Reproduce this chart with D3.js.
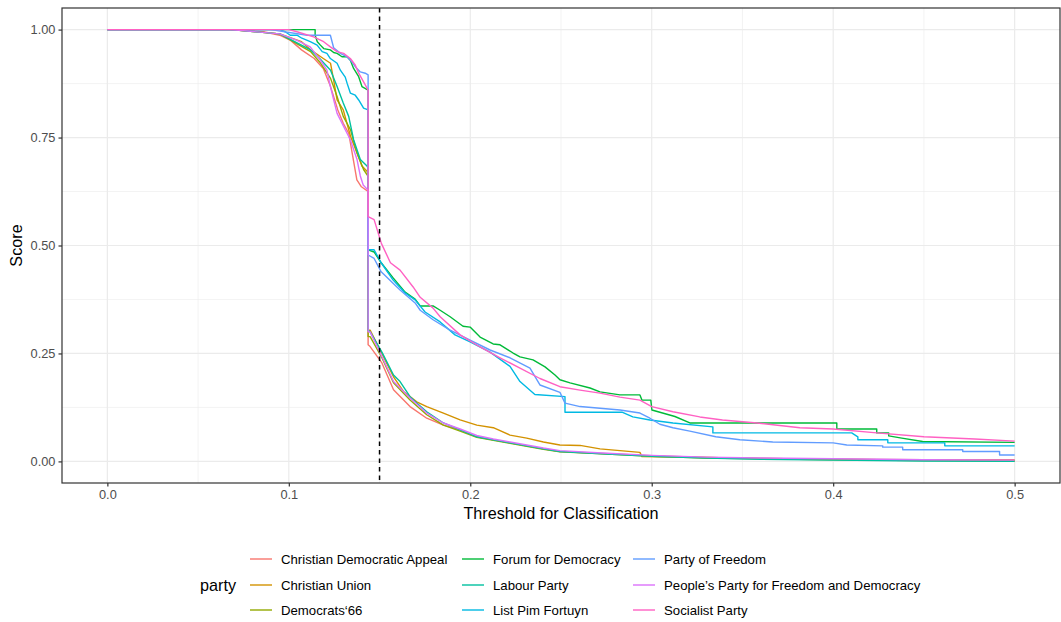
<!DOCTYPE html>
<html>
<head>
    <meta charset="utf-8">
    <title>Score by threshold</title>
    <style>
        body { margin: 0; background: #fff; }
        text { font-family: "Liberation Sans", Arial, sans-serif; }
        .tick-label { fill: #4d4d4d; font-size: 12.8px; }
        .axis-title { fill: #000; font-size: 16.2px; }
        .legend-label { fill: #000; font-size: 13.2px; }
    </style>
</head>
<body>
    <div id="chart"></div>
    <script src="https://d3js.org/d3.v7.min.js"></script>
    <script>
        // parties in legend order, with the default hue colours
        const parties = [
            "Christian Democratic Appeal", "Christian Union", "Democrats‘66",
            "Forum for Democracy", "Labour Party", "List Pim Fortuyn",
            "Party of Freedom", "People’s Party for Freedom and Democracy", "Socialist Party"
        ];
        const colors = ["#F8766D", "#D39200", "#93AA00", "#00BA38", "#00C19F",
                        "#00B9E3", "#619CFF", "#DB72FB", "#FF61C3"];

        const xTicks = [0, 0.1, 0.2, 0.3, 0.4, 0.5];
        const yTicks = [0, 0.25, 0.5, 0.75, 1];
        const cutoff = 0.15;

        // [threshold, score]
        const cda = [[0,1],[0.068,1],[0.086,0.995],[0.095,0.987],[0.101,0.975],[0.107,0.953],[0.114,0.933],[0.119,0.91],[0.123,0.868],[0.127,0.814],[0.130,0.783],[0.133,0.76],[0.1375,0.652],[0.140,0.636],[0.1437,0.625],
            [0.1437,0.27],[0.1448,0.266],[0.1513,0.228],[0.1577,0.166],[0.1668,0.127],[0.176,0.1],[0.1852,0.084],[0.1944,0.073],[0.2036,0.057],[0.2127,0.05],[0.2219,0.043],[0.2311,0.036],[0.2403,0.029],[0.2494,0.023],[0.27,0.019],[0.30,0.013],[0.33,0.009],[0.36,0.007],[0.40,0.005],[0.45,0.004],[0.5,0.004]];
        const cu = [[0,1],[0.068,1],[0.095,0.99],[0.107,0.972],[0.112,0.953],[0.119,0.933],[0.123,0.922],[0.1247,0.883],[0.1266,0.837],[0.130,0.814],[0.134,0.753],[0.1376,0.714],[0.1403,0.684],[0.1431,0.672],[0.1437,0.665],
            [0.1437,0.304],[0.1448,0.304],[0.1513,0.25],[0.1577,0.196],[0.1632,0.162],[0.1668,0.15],[0.1705,0.138],[0.176,0.127],[0.1852,0.112],[0.1944,0.096],[0.2036,0.084],[0.2127,0.078],[0.2219,0.061],[0.2311,0.054],[0.2403,0.045],[0.2494,0.038],[0.2605,0.037],[0.2715,0.029],[0.2935,0.021],[0.2946,0.011],[0.33,0.009],[0.36,0.007],[0.40,0.005],[0.45,0.003],[0.5,0.002]];
        const d66 = [[0,1],[0.068,1],[0.095,0.99],[0.112,0.949],[0.117,0.925],[0.123,0.887],[0.1266,0.845],[0.130,0.799],[0.134,0.768],[0.1376,0.714],[0.1412,0.676],[0.1437,0.66],
            [0.1437,0.289],[0.1448,0.289],[0.1513,0.24],[0.1577,0.182],[0.1668,0.142],[0.176,0.108],[0.1852,0.084],[0.1944,0.07],[0.2036,0.056],[0.2127,0.049],[0.2219,0.042],[0.2311,0.035],[0.2403,0.028],[0.2494,0.022],[0.27,0.018],[0.30,0.012],[0.33,0.008],[0.36,0.006],[0.40,0.004],[0.45,0.002],[0.5,0.001]];
        const fvd = [[0,1],[0.1145,1],[0.1145,0.987],[0.1157,0.972],[0.1174,0.964],[0.1192,0.956],[0.1229,0.953],[0.1247,0.947],[0.1266,0.945],[0.1293,0.937],[0.1321,0.937],[0.1339,0.929],[0.1357,0.91],[0.1385,0.891],[0.1403,0.868],[0.1437,0.86],
            [0.1437,0.49],[0.147,0.485],[0.1509,0.46],[0.1575,0.425],[0.1641,0.392],[0.1696,0.376],[0.1724,0.36],[0.1795,0.36],[0.1834,0.35],[0.1889,0.335],[0.196,0.313],[0.1999,0.311],[0.2054,0.288],[0.2126,0.272],[0.2164,0.27],[0.2236,0.251],[0.2274,0.242],[0.2346,0.235],[0.2412,0.219],[0.2467,0.2],[0.2494,0.189],[0.255,0.182],[0.266,0.17],[0.2715,0.161],[0.2825,0.154],[0.2935,0.154],[0.2946,0.142],[0.2995,0.142],[0.3001,0.119],[0.3128,0.104],[0.321,0.089],[0.402,0.089],[0.402,0.075],[0.424,0.075],[0.424,0.066],[0.4306,0.066],[0.4306,0.059],[0.4378,0.054],[0.4493,0.046],[0.5,0.044]];
        const labour = [[0,1],[0.068,1],[0.095,0.99],[0.112,0.953],[0.117,0.933],[0.123,0.906],[0.1266,0.868],[0.130,0.83],[0.133,0.799],[0.1357,0.745],[0.1394,0.699],[0.1431,0.684],[0.1437,0.68],
            [0.1437,0.304],[0.1448,0.3],[0.1513,0.253],[0.1577,0.2],[0.1613,0.185],[0.1668,0.15],[0.1705,0.135],[0.176,0.115],[0.1852,0.089],[0.1944,0.073],[0.2036,0.057],[0.2127,0.05],[0.2219,0.043],[0.2311,0.036],[0.2403,0.029],[0.2494,0.023],[0.27,0.018],[0.30,0.012],[0.33,0.008],[0.36,0.005],[0.40,0.003],[0.45,0.001],[0.5,0.0]];
        const lpf = [[0,1],[0.095,1],[0.098,0.995],[0.1008,0.987],[0.1045,0.987],[0.1072,0.98],[0.1118,0.972],[0.1156,0.964],[0.1184,0.949],[0.121,0.945],[0.1229,0.933],[0.1266,0.922],[0.1284,0.906],[0.1311,0.89],[0.1321,0.876],[0.1339,0.853],[0.1366,0.848],[0.1385,0.837],[0.1412,0.818],[0.1437,0.814],
            [0.1437,0.49],[0.147,0.49],[0.1509,0.46],[0.1575,0.42],[0.1641,0.39],[0.1696,0.374],[0.1751,0.346],[0.1834,0.323],[0.1916,0.293],[0.1999,0.277],[0.2109,0.253],[0.2219,0.22],[0.2274,0.185],[0.2356,0.155],[0.2522,0.15],[0.2522,0.114],[0.2836,0.114],[0.2896,0.103],[0.299,0.096],[0.3117,0.089],[0.3337,0.08],[0.3337,0.066],[0.4102,0.066],[0.4136,0.057],[0.4136,0.05],[0.4301,0.05],[0.4301,0.043],[0.4615,0.043],[0.4615,0.036],[0.5,0.036]];
        const pvv = [[0,1],[0.09,1],[0.1101,0.987],[0.1229,0.987],[0.1247,0.958],[0.1284,0.945],[0.1321,0.937],[0.1348,0.925],[0.1366,0.914],[0.1394,0.902],[0.1421,0.899],[0.1437,0.895],
            [0.1437,0.478],[0.147,0.47],[0.1509,0.439],[0.1613,0.397],[0.1696,0.367],[0.1724,0.35],[0.1795,0.328],[0.1889,0.304],[0.1999,0.281],[0.2109,0.258],[0.2219,0.24],[0.2329,0.216],[0.2384,0.177],[0.2494,0.16],[0.2522,0.135],[0.2605,0.127],[0.2825,0.119],[0.2935,0.112],[0.299,0.1],[0.3045,0.086],[0.3117,0.078],[0.321,0.07],[0.3353,0.057],[0.3486,0.05],[0.3667,0.045],[0.4,0.043],[0.4075,0.038],[0.4273,0.036],[0.4273,0.033],[0.4383,0.033],[0.4383,0.027],[0.4714,0.027],[0.4714,0.023],[0.4917,0.023],[0.4917,0.015],[0.5,0.015]];
        const vvd = [[0,1],[0.068,1],[0.095,0.99],[0.1045,0.975],[0.1118,0.96],[0.1174,0.929],[0.121,0.906],[0.1229,0.868],[0.1266,0.806],[0.1311,0.768],[0.1339,0.745],[0.1376,0.699],[0.1394,0.661],[0.141,0.64],[0.1437,0.628],
            [0.1437,0.30],[0.1448,0.3],[0.1513,0.243],[0.1577,0.185],[0.1668,0.147],[0.176,0.112],[0.1852,0.089],[0.1944,0.075],[0.2036,0.06],[0.2127,0.052],[0.2219,0.045],[0.2311,0.038],[0.2403,0.031],[0.2494,0.025],[0.27,0.02],[0.30,0.014],[0.33,0.01],[0.36,0.008],[0.40,0.006],[0.45,0.004],[0.5,0.003]];
        const sp = [[0,1],[0.1,1],[0.1045,0.995],[0.1137,0.983],[0.1192,0.972],[0.1229,0.96],[0.1266,0.949],[0.1302,0.945],[0.1339,0.933],[0.1366,0.918],[0.1385,0.899],[0.1412,0.879],[0.1437,0.86],
            [0.1437,0.567],[0.147,0.56],[0.151,0.505],[0.156,0.46],[0.1613,0.443],[0.1685,0.404],[0.1724,0.38],[0.1795,0.355],[0.1834,0.335],[0.1944,0.293],[0.2054,0.265],[0.2164,0.24],[0.2274,0.216],[0.2384,0.192],[0.2494,0.173],[0.2605,0.165],[0.2715,0.158],[0.2825,0.149],[0.2935,0.142],[0.3,0.127],[0.3117,0.115],[0.3265,0.103],[0.339,0.096],[0.358,0.089],[0.3816,0.078],[0.4,0.075],[0.424,0.066],[0.45,0.057],[0.478,0.052],[0.5,0.047]];

        const seriesValues = [cda, cu, d66, fvd, labour, lpf, pvv, vvd, sp];

        const W = 1061, H = 622;
        const panel = { left: 62, right: 1060, top: 8, bottom: 483 };

        const svg = d3.select("#chart").append("svg")
            .attr("width", W)
            .attr("height", H);

        const x = d3.scaleLinear().domain([-0.025, 0.525]).range([panel.left, panel.right]);
        const y = d3.scaleLinear().domain([-0.05, 1.05]).range([panel.bottom, panel.top]);

        // grid, minor first then major
        const grid = svg.append("g");
        const xMinor = d3.range(0, 5).map(i => 0.05 + i * 0.1);
        const yMinor = [0.125, 0.375, 0.625, 0.875];
        grid.selectAll(".xmin").data(xMinor).enter().append("line")
            .attr("x1", d => x(d)).attr("x2", d => x(d))
            .attr("y1", panel.top).attr("y2", panel.bottom)
            .attr("stroke", "#ebebeb").attr("stroke-width", 0.6);
        grid.selectAll(".ymin").data(yMinor).enter().append("line")
            .attr("x1", panel.left).attr("x2", panel.right)
            .attr("y1", d => y(d)).attr("y2", d => y(d))
            .attr("stroke", "#ebebeb").attr("stroke-width", 0.6);
        grid.selectAll(".xmaj").data(xTicks).enter().append("line")
            .attr("x1", d => x(d)).attr("x2", d => x(d))
            .attr("y1", panel.top).attr("y2", panel.bottom)
            .attr("stroke", "#ebebeb").attr("stroke-width", 1.2);
        grid.selectAll(".ymaj").data(yTicks).enter().append("line")
            .attr("x1", panel.left).attr("x2", panel.right)
            .attr("y1", d => y(d)).attr("y2", d => y(d))
            .attr("stroke", "#ebebeb").attr("stroke-width", 1.2);

        // lines
        const line = d3.line().x(d => x(d[0])).y(d => y(d[1]));
        svg.append("g").selectAll("path").data(seriesValues).enter().append("path")
            .attr("d", line)
            .attr("fill", "none")
            .attr("stroke", (d, i) => colors[i])
            .attr("stroke-width", 1.4)
            .attr("stroke-linejoin", "round");

        // cut-off line
        svg.append("line")
            .attr("x1", x(cutoff)).attr("x2", x(cutoff))
            .attr("y1", panel.top).attr("y2", panel.bottom)
            .attr("stroke", "#000").attr("stroke-width", 1.5)
            .attr("stroke-dasharray", "4.5,4");

        // panel border
        svg.append("rect")
            .attr("x", panel.left).attr("y", panel.top)
            .attr("width", panel.right - panel.left).attr("height", panel.bottom - panel.top)
            .attr("fill", "none").attr("stroke", "#333").attr("stroke-width", 1.2);

        // axes
        const xAxis = svg.append("g")
            .attr("transform", `translate(0,${panel.bottom})`)
            .call(d3.axisBottom(x).tickValues(xTicks).tickFormat(d3.format(".1f")).tickSize(3.5).tickPadding(3));
        const yAxis = svg.append("g")
            .attr("transform", `translate(${panel.left},0)`)
            .call(d3.axisLeft(y).tickValues(yTicks).tickFormat(d3.format(".2f")).tickSize(3.5).tickPadding(3));
        [xAxis, yAxis].forEach(a => {
            a.select(".domain").remove();
            a.selectAll(".tick line").attr("stroke", "#333").attr("stroke-width", 1.2);
            a.selectAll(".tick text").attr("class", "tick-label")
                .attr("fill", "#4d4d4d").attr("font-family", null).attr("font-size", null);
        });

        svg.append("text").attr("class", "axis-title")
            .attr("x", (x(0) + x(0.5)) / 2).attr("y", 519)
            .attr("text-anchor", "middle")
            .text("Threshold for Classification");
        svg.append("text").attr("class", "axis-title")
            .attr("transform", `translate(22,${(panel.top + panel.bottom) / 2}) rotate(-90)`)
            .attr("text-anchor", "middle")
            .text("Score");

        // legend
        const legend = svg.append("g");
        legend.append("text").attr("class", "axis-title")
            .attr("x", 200).attr("y", 585).attr("dy", "0.35em")
            .text("party");
        const colX = [250, 462, 633];
        const rowY = [559, 585, 610];
        const items = legend.selectAll(".item").data(parties).enter().append("g")
            .attr("transform", (d, i) => `translate(${colX[Math.floor(i / 3)]},${rowY[i % 3]})`);
        items.append("line")
            .attr("x1", 0).attr("x2", 22).attr("y1", 0).attr("y2", 0)
            .attr("stroke", (d, i) => colors[i]).attr("stroke-width", 1.4);
        items.append("text").attr("class", "legend-label")
            .attr("x", 31).attr("dy", "0.35em")
            .text(d => d);
    </script>
</body>
</html>
